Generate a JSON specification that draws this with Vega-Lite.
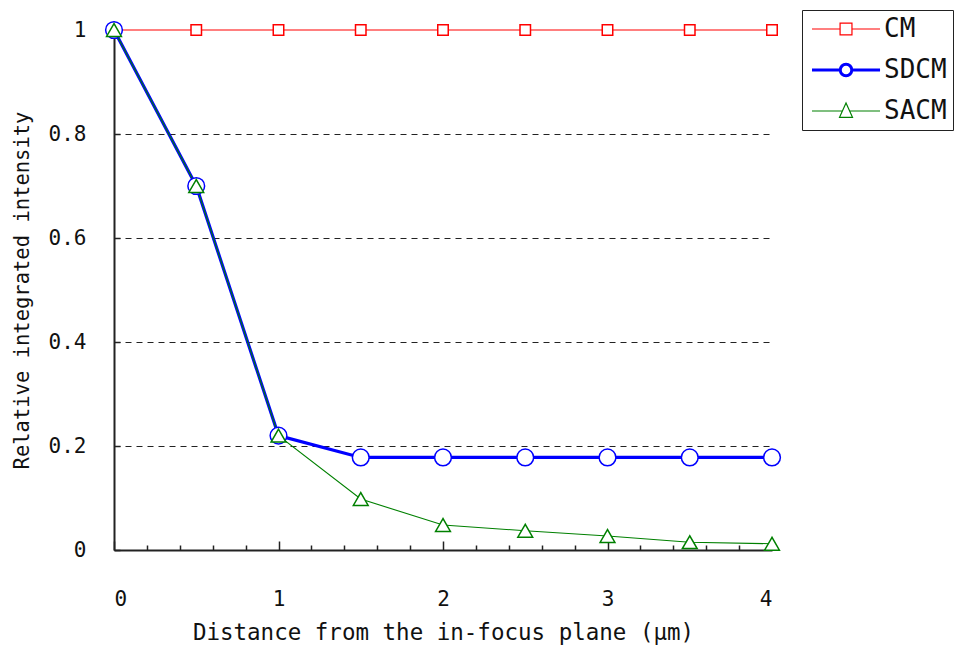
{
  "$schema": "https://vega.github.io/schema/vega-lite/v6.json",
  "width": 658,
  "height": 520,
  "autosize": "none",
  "padding": {"left": 114, "top": 30, "right": 188, "bottom": 100},
  "background": "white",
  "data": {"values": [
    {"d": 0, "series": "CM", "v": 1},
    {"d": 0.5, "series": "CM", "v": 1},
    {"d": 1, "series": "CM", "v": 1},
    {"d": 1.5, "series": "CM", "v": 1},
    {"d": 2, "series": "CM", "v": 1},
    {"d": 2.5, "series": "CM", "v": 1},
    {"d": 3, "series": "CM", "v": 1},
    {"d": 3.5, "series": "CM", "v": 1},
    {"d": 4, "series": "CM", "v": 1},
    {"d": 0, "series": "SDCM", "v": 1},
    {"d": 0.5, "series": "SDCM", "v": 0.70},
    {"d": 1, "series": "SDCM", "v": 0.22},
    {"d": 1.5, "series": "SDCM", "v": 0.178},
    {"d": 2, "series": "SDCM", "v": 0.178},
    {"d": 2.5, "series": "SDCM", "v": 0.178},
    {"d": 3, "series": "SDCM", "v": 0.178},
    {"d": 3.5, "series": "SDCM", "v": 0.178},
    {"d": 4, "series": "SDCM", "v": 0.178},
    {"d": 0, "series": "SACM", "v": 1},
    {"d": 0.5, "series": "SACM", "v": 0.70},
    {"d": 1, "series": "SACM", "v": 0.22},
    {"d": 1.5, "series": "SACM", "v": 0.098},
    {"d": 2, "series": "SACM", "v": 0.048},
    {"d": 2.5, "series": "SACM", "v": 0.037},
    {"d": 3, "series": "SACM", "v": 0.027},
    {"d": 3.5, "series": "SACM", "v": 0.015},
    {"d": 4, "series": "SACM", "v": 0.012}
  ]},
  "encoding": {
    "x": {"field": "d", "type": "quantitative",
      "scale": {"domain": [0, 4], "nice": false, "zero": false},
      "axis": {
        "title": "Distance from the in-focus plane (μm)",
        "titleFontSize": 22.5,
        "values": [0, 0.2, 0.4, 0.6, 0.8, 1, 1.2, 1.4, 1.6, 1.8, 2, 2.2, 2.4, 2.6, 2.8, 3, 3.2, 3.4, 3.6, 3.8, 4],
        "labelExpr": "abs(datum.value - round(datum.value)) < 1e-6 ? format(datum.value, 'd') : ''",
        "tickSize": {"condition": {"test": "abs(datum.value - round(datum.value)) < 1e-6", "value": -9}, "value": -5},
        "grid": false,
        "labelPadding": 47,
        "titlePadding": 12
      }
    },
    "y": {"field": "v", "type": "quantitative",
      "scale": {"domain": [0, 1], "nice": false},
      "axis": {
        "title": "Relative integrated intensity",
        "titleFontSize": 20.5,
        "values": [0, 0.2, 0.4, 0.6, 0.8, 1],
        "format": "~g",
        "tickSize": -6,
        "grid": true,
        "gridDash": [6, 5],
        "gridColor": "#222",
        "gridOpacity": {"condition": {"test": "datum.value === 0 || datum.value === 1", "value": 0}, "value": 1},
        "labelPadding": 34,
        "titlePadding": 16
      }
    }
  },
  "layer": [
    {
      "mark": {"type": "line"},
      "encoding": {
        "color": {"field": "series", "type": "nominal",
          "scale": {"domain": ["CM", "SDCM", "SACM"], "range": ["#ff0000", "#0000ff", "#008000"]},
          "legend": {
            "orient": "none", "legendX": 688, "legendY": -20,
            "title": null,
            "strokeColor": "#222",
            "fillColor": "white",
            "padding": 6,
            "rowPadding": 15,
            "symbolSize": 1296,
            "labelOffset": 50,
            "labelFontSize": 26,
            "labelExpr": "datum.label + '\u00a0\u00a0\u00a0'",
            "encode": {"symbols": {"update": {
              "shape": {"signal": "datum.value === 'CM' ? 'M-0.5,0H1.06M1.72,0H3.28M1.06,-0.33H1.72V0.33H1.06Z' : datum.value === 'SDCM' ? 'M-0.5,0H1.07M1.71,0H3.28M1.07,0A0.32,0.32,0,1,0,1.71,0A0.32,0.32,0,1,0,1.07,0Z' : 'M-0.5,0H1.19M1.59,0H3.28M1.39,-0.45L1.75,0.35H1.03Z'"},
              "fill": {"value": "white"},
              "fillOpacity": {"value": 1},
              "strokeWidth": {"signal": "datum.value === 'SDCM' ? 3 : 1.2"}
            }}}
          }
        },
        "strokeWidth": {"condition": {"test": "datum.series === 'SDCM'", "value": 3.2}, "value": 1.1}
      }
    },
    {
      "mark": {"type": "point", "filled": true, "fill": "white", "opacity": 1, "strokeWidth": 1.5},
      "encoding": {
        "stroke": {"condition": [{"test": "datum.series === 'CM'", "value": "#ff0000"}, {"test": "datum.series === 'SDCM'", "value": "#0000ff"}], "value": "#008000"},
        "shape": {"condition": [{"test": "datum.series === 'CM'", "value": "square"}, {"test": "datum.series === 'SDCM'", "value": "circle"}], "value": "triangle-up"},
        "size": {"condition": [{"test": "datum.series === 'CM'", "value": 110}, {"test": "datum.series === 'SDCM'", "value": 280}], "value": 220}
      }
    }
  ],
  "config": {
    "view": {"stroke": null},
    "font": "DejaVu Sans Mono",
    "axis": {
      "domainColor": "#222",
      "domainWidth": 2,
      "tickColor": "#222",
      "tickWidth": 1.5,
      "labelFont": "DejaVu Sans Mono",
      "labelFontSize": 21,
      "labelColor": "#111",
      "titleFont": "DejaVu Sans Mono",
      "titleFontWeight": "normal",
      "titleColor": "#111"
    },
    "legend": {"labelFont": "DejaVu Sans Mono", "labelColor": "#111"}
  }
}
